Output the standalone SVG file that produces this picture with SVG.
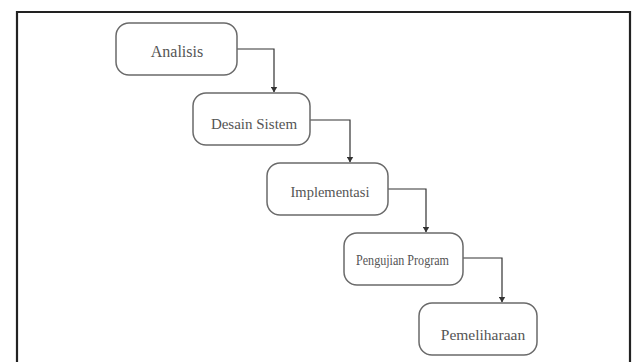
<svg xmlns="http://www.w3.org/2000/svg" width="635" height="362" viewBox="0 0 635 362">
<defs>
<style>
.box{fill:#fff;stroke:#6a6a6a;stroke-width:1.5}
.lbl{font-family:"Liberation Serif","Times New Roman",serif;fill:#555;text-anchor:middle}
.con{fill:none;stroke:#333;stroke-width:1.2}
</style>
<marker id="ah" markerWidth="6" markerHeight="7" refX="5.5" refY="3.5" orient="auto" markerUnits="userSpaceOnUse" viewBox="0 0 6 7">
<path d="M0,0 L6,3.5 L0,7 Z" fill="#333"/>
</marker>
</defs>
<rect x="0" y="0" width="635" height="362" fill="#fff"/>
<path d="M17,364 V12 H630 V364" fill="none" stroke="#222" stroke-width="2.2"/>
<g id="connectors">
<path class="con" d="M237,49 H274 V92" marker-end="url(#ah)"/>
<path class="con" d="M310,120 H350 V162" marker-end="url(#ah)"/>
<path class="con" d="M388,189 H426 V232" marker-end="url(#ah)"/>
<path class="con" d="M463,258 H502 V302" marker-end="url(#ah)"/>
</g>
<g id="analisis">
<rect class="box" x="116" y="23" width="121" height="52" rx="13"/>
<text class="lbl" x="177" y="57" font-size="16">Analisis</text>
</g>
<g id="desain-sistem">
<rect class="box" x="193" y="93" width="117" height="52" rx="13"/>
<text class="lbl" x="254" y="129" font-size="15">Desain Sistem</text>
</g>
<g id="implementasi">
<rect class="box" x="267" y="163" width="121" height="52" rx="13"/>
<text class="lbl" x="330" y="197" font-size="14.5">Implementasi</text>
</g>
<g id="pengujian-program">
<rect class="box" x="344" y="233" width="119" height="52" rx="13"/>
<text class="lbl" x="402.5" y="265" font-size="15" textLength="93" lengthAdjust="spacingAndGlyphs">Pengujian Program</text>
</g>
<g id="pemeliharaan">
<rect class="box" x="419" y="303" width="118" height="52" rx="13"/>
<text class="lbl" x="483" y="340" font-size="15.5">Pemeliharaan</text>
</g>
</svg>
